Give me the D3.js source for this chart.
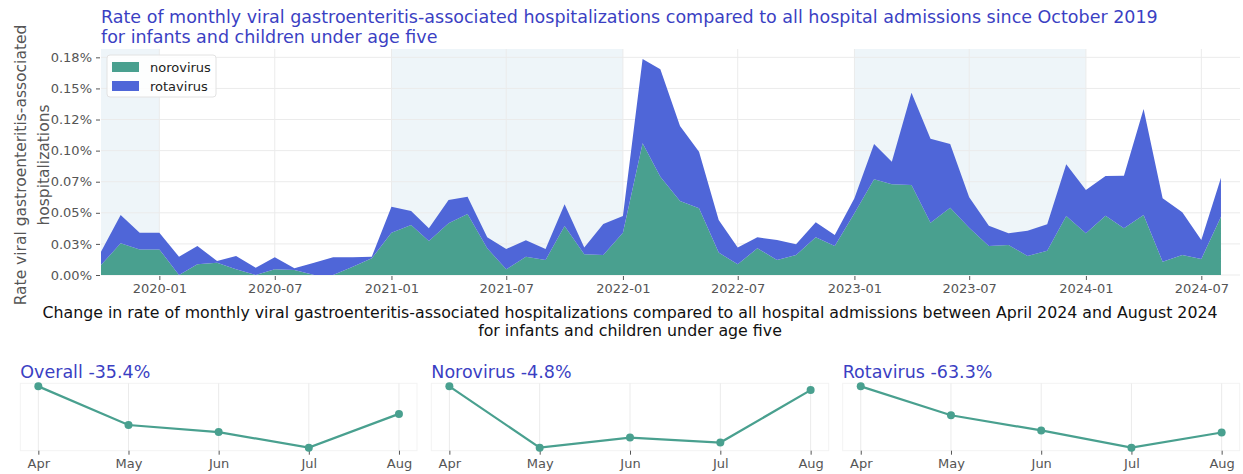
<!DOCTYPE html>
<html>
<head>
<meta charset="utf-8">
<script src="https://cdn.jsdelivr.net/npm/d3@7"></script>
<style>
  body { margin: 0; background: white; }
  svg { font-family: "DejaVu Sans", sans-serif; }
</style>
</head>
<body>
<svg id="vis"></svg>
<script>
// monthly rates (% of all admissions), stacked: norovirus below rotavirus
var months = ["2019-10","2019-11","2019-12",
  "2020-01","2020-02","2020-03","2020-04","2020-05","2020-06","2020-07","2020-08","2020-09","2020-10","2020-11","2020-12",
  "2021-01","2021-02","2021-03","2021-04","2021-05","2021-06","2021-07","2021-08","2021-09","2021-10","2021-11","2021-12",
  "2022-01","2022-02","2022-03","2022-04","2022-05","2022-06","2022-07","2022-08","2022-09","2022-10","2022-11","2022-12",
  "2023-01","2023-02","2023-03","2023-04","2023-05","2023-06","2023-07","2023-08","2023-09","2023-10","2023-11","2023-12",
  "2024-01","2024-02","2024-03","2024-04","2024-05","2024-06","2024-07","2024-08"]

var norovirus = [0.0080,0.0255,0.0206,
  0.0206,0.0000,0.0086,0.0099,0.0046,0.0000,0.0046,0.0040,0.0000,0.0000,0.0067,0.0134,
  0.0340,0.0402,0.0273,0.0416,0.0490,0.0215,0.0046,0.0147,0.0121,0.0394,0.0166,0.0161,
  0.0340,0.1059,0.0790,0.0595,0.0536,0.0180,0.0086,0.0215,0.0121,0.0161,0.0303,0.0233,
  0.0496,0.0769,0.0729,0.0724,0.0421,0.0541,0.0380,0.0233,0.0241,0.0153,0.0195,0.0474,
  0.0335,0.0477,0.0375,0.0482,0.0107,0.0161,0.0129,0.0469]

var rotavirus = [0.0107,0.0227,0.0134,
  0.0134,0.0147,0.0147,0.0014,0.0107,0.0059,0.0096,0.0014,0.0099,0.0142,0.0075,0.0013,
  0.0209,0.0113,0.0102,0.0187,0.0140,0.0088,0.0163,0.0132,0.0088,0.0174,0.0056,0.0249,
  0.0134,0.0678,0.0864,0.0603,0.0455,0.0262,0.0136,0.0088,0.0160,0.0086,0.0121,0.0089,
  0.0121,0.0284,0.0182,0.0742,0.0675,0.0512,0.0245,0.0163,0.0094,0.0203,0.0213,0.0416,
  0.0348,0.0319,0.0422,0.0853,0.0510,0.0343,0.0152,0.0313]

// winter seasons shaded in the top chart
var seasons = [["2019-10","2020-01"],["2021-01","2022-01"],["2023-01","2024-01"]]

var yTicks = [0, 0.025, 0.05, 0.075, 0.1, 0.125, 0.15, 0.175]
var yTickLabels = ["0.00%","0.03%","0.05%","0.07%","0.10%","0.12%","0.15%","0.18%"]
var xTicks = ["2020-01","2020-07","2021-01","2021-07","2022-01","2022-07","2023-01","2023-07","2024-01","2024-07"]

// April-August 2024, indexed to April = 100
var recentMonths = ["Apr","May","Jun","Jul","Aug"]
var overallIndex = [100, 50.3, 41.2, 21.2, 64.6]
var norovirusIndex = [100, 21.3, 34.2, 27.8, 95.2]
var rotavirusIndex = [100, 60.3, 39.5, 15.9, 36.7]
var panelTitles = ["Overall -35.4%", "Norovirus -4.8%", "Rotavirus -63.3%"]

var width = 1243, height = 474
var noroColor = "#49a08f", rotaColor = "#4f66d8", titleColor = "#3b3fc3"
var gridColor = "#ebebeb", tickColor = "#555"

var svg = d3.select("#vis").attr("width", width).attr("height", height)

var parseMonth = d3.timeParse("%Y-%m")
var dataset = months.map((m, i) => ({date: parseMonth(m), norovirus: norovirus[i], rotavirus: rotavirus[i]}))

var plot = {left: 101, right: 1240, top: 49, bottom: 275}

var xScale = d3.scaleTime()
  .domain([parseMonth("2019-10"), new Date(2024, 7, 31)])
  .range([plot.left, plot.right])

var yScale = d3.scaleLinear()
  .domain([0, 0.1817])
  .range([plot.bottom, plot.top])

// shading
svg.append("g").selectAll("rect")
  .data(seasons)
  .enter().append("rect")
  .attr("x", d => xScale(parseMonth(d[0])))
  .attr("width", d => xScale(parseMonth(d[1])) - xScale(parseMonth(d[0])))
  .attr("y", plot.top)
  .attr("height", plot.bottom - plot.top)
  .attr("fill", "#eef5f9")

// grid
svg.append("g").selectAll("line")
  .data(yTicks)
  .enter().append("line")
  .attr("x1", plot.left).attr("x2", plot.right)
  .attr("y1", d => yScale(d)).attr("y2", d => yScale(d))
  .attr("stroke", gridColor)
svg.append("g").selectAll("line")
  .data(xTicks)
  .enter().append("line")
  .attr("x1", d => xScale(parseMonth(d))).attr("x2", d => xScale(parseMonth(d)))
  .attr("y1", plot.top).attr("y2", plot.bottom)
  .attr("stroke", gridColor)

// stacked areas
var stack = d3.stack().keys(["norovirus", "rotavirus"])
var series = stack(dataset)
var areaGen = d3.area()
  .x(d => xScale(d.data.date))
  .y0(d => yScale(d[0]))
  .y1(d => yScale(d[1]))

svg.append("g").selectAll("path")
  .data(series)
  .enter().append("path")
  .attr("d", areaGen)
  .attr("fill", d => d.key == "norovirus" ? noroColor : rotaColor)

// axes
var yAxisGen = d3.axisLeft(yScale).tickValues(yTicks).tickFormat((d, i) => yTickLabels[i]).tickSize(4).tickPadding(4)
var yAxis = svg.append("g")
  .attr("transform", `translate(${plot.left - 1},0)`)
  .call(yAxisGen)
var xAxisGen = d3.axisBottom(xScale).tickValues(xTicks.map(parseMonth)).tickFormat(d3.timeFormat("%Y-%m")).tickSize(4).tickPadding(4)
var xAxis = svg.append("g")
  .attr("transform", `translate(0,${plot.bottom + 1})`)
  .call(xAxisGen)
svg.selectAll(".domain").remove()
svg.selectAll(".tick line").attr("stroke", tickColor)
svg.selectAll(".tick text").attr("fill", tickColor).style("font-size", "13px").style("font-family", "DejaVu Sans")

// legend
var legend = svg.append("g")
legend.append("rect")
  .attr("x", 107).attr("y", 55).attr("width", 109).attr("height", 42).attr("rx", 3)
  .attr("fill", "white").attr("fill-opacity", 0.85).attr("stroke", "#e2e2e2")
var legendItems = legend.selectAll("g.item")
  .data(["norovirus", "rotavirus"])
  .enter().append("g")
  .attr("transform", (d, i) => `translate(112,${62 + i * 19})`)
legendItems.append("rect").attr("width", 27).attr("height", 10)
  .attr("fill", d => d == "norovirus" ? noroColor : rotaColor)
legendItems.append("text").attr("x", 38).attr("y", 5).attr("dy", "0.35em")
  .style("font-size", "13px").attr("fill", "#222").text(d => d)

// titles
var title = svg.append("text").attr("fill", titleColor).style("font-size", "17.5px")
title.append("tspan").attr("x", 101).attr("y", 23).text("Rate of monthly viral gastroenteritis-associated hospitalizations compared to all hospital admissions since October 2019")
title.append("tspan").attr("x", 101).attr("y", 42.5).text("for infants and children under age five")

var yLabel = svg.append("text").attr("fill", "#555").style("font-size", "15.5px")
  .attr("text-anchor", "middle").attr("transform", "translate(0,165) rotate(-90)")
yLabel.append("tspan").attr("x", 0).attr("y", 26).text("Rate viral gastroenteritis-associated")
yLabel.append("tspan").attr("x", 0).attr("y", 48.5).text("hospitalizations")

var subTitle = svg.append("text").attr("fill", "#111").style("font-size", "15.8px").attr("text-anchor", "middle")
subTitle.append("tspan").attr("x", 630).attr("y", 318).text("Change in rate of monthly viral gastroenteritis-associated hospitalizations compared to all hospital admissions between April 2024 and August 2024")
subTitle.append("tspan").attr("x", 630).attr("y", 336).text("for infants and children under age five")

// small multiples
var panels = [
  {title: panelTitles[0], values: overallIndex, left: 20.3, right: 417},
  {title: panelTitles[1], values: norovirusIndex, left: 431.3, right: 828.7},
  {title: panelTitles[2], values: rotavirusIndex, left: 842.7, right: 1239.7}
]
var panelTop = 383.3, panelBottom = 450.7

panels.forEach(function (p) {
  var g = svg.append("g")
  var pad = (p.right - p.left) * 0.05 / 1.1
  var px = d3.scalePoint().domain(recentMonths).range([p.left + pad, p.right - pad])
  var ext = d3.extent(p.values)
  var ypad = (ext[1] - ext[0]) * 0.05
  var py = d3.scaleLinear().domain([ext[0] - ypad, ext[1] + ypad]).range([panelBottom, panelTop])

  g.append("rect").attr("x", p.left).attr("y", panelTop).attr("width", p.right - p.left).attr("height", panelBottom - panelTop)
    .attr("fill", "none").attr("stroke", "#f3f3f3")
  g.selectAll("line.grid").data(recentMonths).enter().append("line")
    .attr("x1", d => px(d)).attr("x2", d => px(d)).attr("y1", panelTop).attr("y2", panelBottom)
    .attr("stroke", gridColor)

  var axis = g.append("g").attr("transform", `translate(0,${panelBottom})`)
    .call(d3.axisBottom(px).tickSize(4).tickPadding(4))
  axis.select(".domain").remove()
  axis.selectAll(".tick line").attr("stroke", tickColor)
  axis.selectAll(".tick text").attr("fill", tickColor).style("font-size", "13px").style("font-family", "DejaVu Sans")

  g.append("path").datum(p.values)
    .attr("d", d3.line().x((d, i) => px(recentMonths[i])).y(d => py(d)))
    .attr("fill", "none").attr("stroke", noroColor).attr("stroke-width", 2.2)
  g.selectAll("circle").data(p.values).enter().append("circle")
    .attr("cx", (d, i) => px(recentMonths[i])).attr("cy", d => py(d)).attr("r", 4)
    .attr("fill", noroColor)

  g.append("text").attr("x", p.left).attr("y", 378).attr("fill", titleColor)
    .style("font-size", "17.5px").text(p.title)
})
</script>
</body>
</html>
